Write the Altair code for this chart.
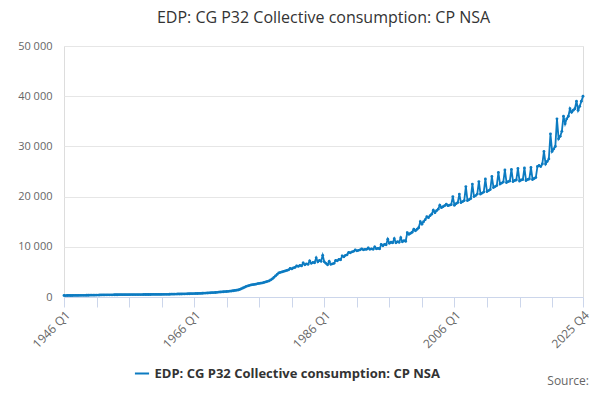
import altair as alt
import pandas as pd

series_name = "EDP: CG P32 Collective consumption: CP NSA"
start_year = 1946

# quarterly values (Q1..Q4) per year, 1946 - 2025
early = [
    300, 290, 300, 310, 300, 300, 310, 310, 320, 320, 330, 330, 340, 340, 350, 350,
    360, 360, 370, 370, 380, 390, 400, 410, 420, 420, 430, 430, 440, 440, 440, 450,
    450, 450, 460, 460, 460, 470, 470, 470, 470, 480, 480, 480, 480, 490, 490, 490,
    490, 500, 500, 500, 500, 500, 510, 510, 510, 520, 520, 520, 520, 530, 530, 540,
    540, 550, 560, 570, 570, 580, 590, 600, 600, 610, 620, 630, 640, 650, 660, 670,
    680, 690, 700, 710, 720, 740, 760, 780, 800, 820, 840, 860, 880, 900, 930, 960,
]
later = [
    1000, 1020, 1050, 1080, 1100, 1130, 1160, 1200, 1250, 1300, 1350, 1400,
    1500, 1650, 1800, 1950, 2100, 2200, 2300, 2400, 2450, 2500, 2550, 2650,
    2700, 2750, 2800, 2900, 3000, 3100, 3200, 3400, 3600, 3900, 4200, 4500,
    4800, 4900, 5000, 5100, 5200, 5300, 5400, 5700, 5600, 5800, 5900, 6200,
    6100, 6300, 6200, 6800, 6400, 6600, 6500, 7200, 6700, 6900, 6800, 7800,
    7000, 7300, 7100, 8300, 7000, 6700, 6400, 7100, 6500, 6600, 6700, 7300,
    7200, 7500, 7400, 8200, 8000, 8300, 8400, 8900, 8800, 9000, 9100, 9400,
    9200, 9300, 9400, 9600, 9400, 9500, 9500, 9800, 9500, 9600, 9500, 10000,
    9600, 9700, 9600, 10500, 10200, 10500, 10400, 11500, 10700, 10900, 10800, 11600,
    10800, 11000, 10900, 11800, 11000, 11200, 11100, 12800, 12500, 12700, 12900, 13500,
    13200, 13500, 13800, 15000, 14500, 15000, 15400, 16000, 15800, 16200, 16500, 17300,
    16800, 17200, 17500, 18300, 17800, 18000, 18200, 18500, 18200, 18300, 18400, 20000,
    18300, 18600, 18800, 20500, 18800, 19000, 19200, 22000, 19200, 19400, 19600, 22500,
    20000, 20200, 20500, 23000, 20500, 20700, 20900, 23500, 21000, 21200, 21400, 24000,
    21800, 22000, 22200, 24800, 22500, 22700, 22900, 25300, 22800, 23000, 23100, 25400,
    23000, 23200, 23300, 25600, 23100, 23300, 23400, 25700, 23200, 23400, 23500, 25800,
    23400, 23600, 23800, 26000, 26200, 26000, 26500, 29000, 26500, 27000, 27500, 32500,
    29000, 29500, 30000, 35500, 31500, 32000, 33000, 36000, 34500, 35500, 36000, 37500,
    36800, 37200, 37500, 39000, 37200, 38000, 39000, 40000,
]
values = early + later
tick_idx = [0, 20, 40, 60, 80, 100, 120, 140, 160, 180, 200, 220, 240, 260, 280, 300, 319]
label_idx = [0, 80, 160, 240, 319]

df = pd.DataFrame({"idx": list(range(len(values))), "value": values, "series": series_name})

blue = "#0c7bc1"
W, H = 519, 251

line = alt.Chart(df).mark_line(
    point=alt.OverlayMarkDef(size=8, filled=True, color=blue), strokeWidth=1.8, color=blue
).encode(
    x=alt.X("idx:Q", title=None, scale=alt.Scale(domain=[0, 319], nice=False, zero=False),
            axis=alt.Axis(values=tick_idx, labelAngle=315, labelAlign="right", labelColor="#666",
                          labelFontSize=12, domainColor="#ccd6eb", tickColor="#ccd6eb", tickSize=10,
                          grid=False, labelOverlap=False, labelPadding=2,
                          labelExpr="indexof(" + str(label_idx) + ", datum.value) >= 0 ? (floor(datum.value/4)+1946) + ' Q' + (datum.value%4+1) : ''")),
    y=alt.Y("value:Q", title=None, scale=alt.Scale(domain=[0, 50000]),
            axis=alt.Axis(values=[0, 10000, 20000, 30000, 40000, 50000], domain=False, ticks=False,
                          gridColor="#e6e6e6", labelColor="#666", labelFontSize=11, labelPadding=12,
                          labelExpr="replace(format(datum.value, ','), ',', ' ')")),
    color=alt.Color("series:N", scale=alt.Scale(range=[blue]),
                    legend=alt.Legend(title=None, orient="none", legendX=W / 2 - 190, legendY=H + 68,
                                      symbolType="stroke", symbolStrokeWidth=2, symbolSize=200,
                                      labelFontSize=13, labelFontWeight="bold", labelColor="#333",
                                      labelLimit=400)),
)

source = alt.Chart(pd.DataFrame({"t": ["Source:"]})).mark_text(
    align="right", baseline="middle", fontSize=12, color="#666", font="Open Sans"
).encode(x=alt.value(W + 6), y=alt.value(H + 84), text="t:N")

chart = alt.layer(line, source).properties(
    width=W, height=H,
    title=alt.TitleParams(series_name, fontSize=16, fontWeight="normal", color="#333",
                          font="Open Sans", anchor="middle", offset=14),
    autosize=alt.AutoSizeParams(type="none"),
    padding={"left": 56, "top": 38, "right": 9, "bottom": 95},
).configure_view(stroke=None).configure(font="Open Sans")

chart.save("out.html", embed_options={"renderer": "svg", "actions": False})
